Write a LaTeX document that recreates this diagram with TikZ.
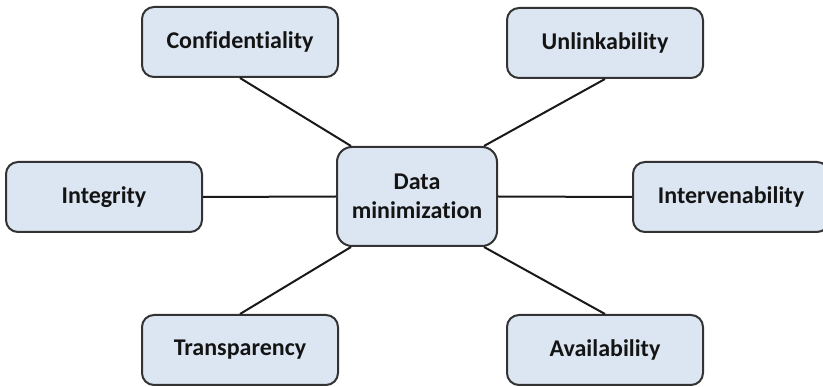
\documentclass[tikz,border=0pt]{standalone}
\usepackage{fontspec}
\setmainfont{Carlito}[Ligatures=CommonOff]
\usetikzlibrary{calc}
\definecolor{boxfill}{HTML}{DCE6F2}
\definecolor{boxborder}{HTML}{333333}
\definecolor{txt}{HTML}{141414}
\begin{document}
\begin{tikzpicture}[x=1pt,y=-1pt,
  box/.style={draw=boxborder, line width=2pt, fill=boxfill, rounded corners=12pt,
    minimum width=196pt, minimum height=70pt, inner sep=0pt, align=center,
    font=\fontsize{24}{29}\selectfont\bfseries, text=txt},
  link/.style={line width=2pt, draw=black!90}]
\useasboundingbox (0,0) rectangle (823,387);
\node[box] (conf) at (240,42) {Confidentiality};
\node[box] (unl) at (605,43) {Unlinkability};
\node[box] (integ) at (104,197) {Integrity};
\node[box, minimum width=160pt, minimum height=99pt, rounded corners=15pt] (dm) at (417,196.5) {Data\\minimization};
\node[box] (interv) at (731,197) {Intervenability};
\node[box] (trans) at (240,350) {Transparency};
\node[box] (avail) at (605,350) {Availability};
\draw[link] (conf.south) -- ($(dm.north west)+(15,0)$);
\draw[link] (unl.south) -- ($(dm.north east)+(-14,0)$);
\draw[link] (trans.north) -- ($(dm.south west)+(15,0)$);
\draw[link] (avail.north) -- ($(dm.south east)+(-14,0)$);
\draw[link] (integ.east) -- (dm.west);
\draw[link] (dm.east) -- (interv.west);
\end{tikzpicture}
\end{document}
